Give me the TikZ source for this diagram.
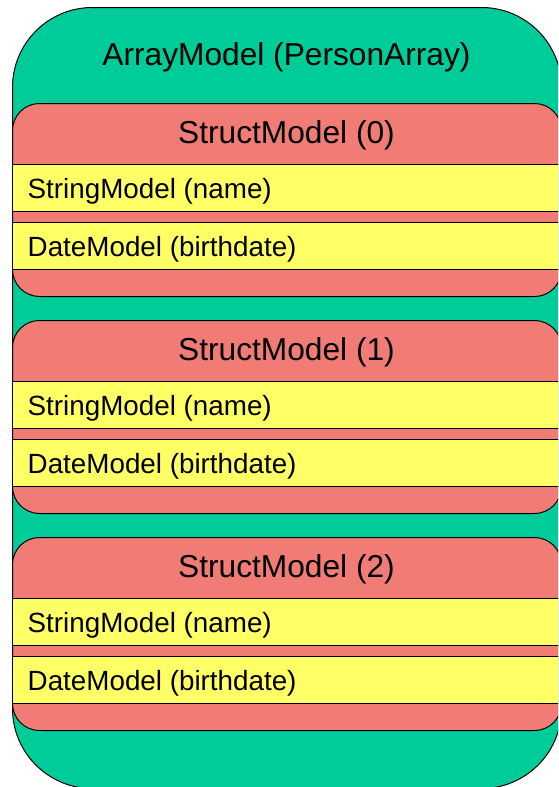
\documentclass[tikz,border=0pt]{standalone}
\usepackage{fontspec}
\setmainfont{Liberation Sans}
\definecolor{arraygreen}{RGB}{0,204,153}
\definecolor{structred}{RGB}{240,124,117}
\definecolor{fieldyellow}{RGB}{255,255,102}
\begin{document}
\begin{tikzpicture}[x=1pt,y=-1pt,
  box/.style={draw=black, line width=1pt, inner sep=0pt, anchor=north west, minimum width=549pt},
  arraybox/.style={box, fill=arraygreen, rounded corners=80pt, minimum height=781pt},
  structbox/.style={box, fill=structred, rounded corners=27pt, minimum height=193pt},
  fieldbox/.style={box, fill=fieldyellow, rounded corners=0pt, minimum height=47pt},
  bigtext/.style={font=\fontsize{31.7}{36}\selectfont, anchor=base, inner sep=0pt},
  fieldtext/.style={font=\fontsize{27.8}{32}\selectfont, anchor=base west, inner sep=0pt}]
\useasboundingbox (0,0) rectangle (558,787);
\clip (0,0) rectangle (558,787);
% outer array container
\node[arraybox] (array) at (12,7) {};
\node[bigtext] (arraytitle) at (286.5,65) {ArrayModel (PersonArray)};
% one struct per array element, each holding two fields
\foreach \i in {0,1,2} {
  \pgfmathsetmacro\dy{217*\i}
  \node[structbox] (struct\i) at (12,103+\dy) {};
  \node[bigtext] (structtitle\i) at (286.5,143+\dy) {StructModel (\i)};
  \node[fieldbox] (name\i) at (12,164+\dy) {};
  \node[fieldtext] (namelabel\i) at (27.5,198+\dy) {StringModel (name)};
  \node[fieldbox] (birth\i) at (12,222+\dy) {};
  \node[fieldtext] (birthlabel\i) at (27.5,256+\dy) {DateModel (birthdate)};
}
\end{tikzpicture}
\end{document}
